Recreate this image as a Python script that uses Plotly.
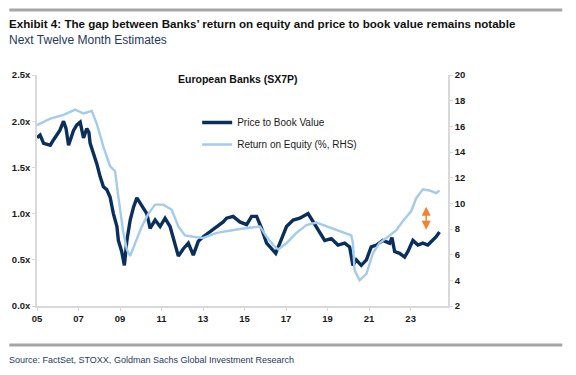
import plotly.graph_objects as go

# ---- data ----
pb_year = [2005.00, 2005.15, 2005.32, 2005.64, 2005.80, 2005.96, 2006.10, 2006.28, 2006.40, 2006.52,
           2006.64, 2006.76, 2006.92, 2007.08, 2007.24, 2007.40, 2007.50, 2007.56, 2007.72, 2007.88,
           2008.04, 2008.20, 2008.36, 2008.52, 2008.68, 2008.85, 2008.92, 2009.08, 2009.21, 2009.33,
           2009.49, 2009.65, 2009.81, 2010.05, 2010.29, 2010.45, 2010.69, 2010.93, 2011.17, 2011.41,
           2011.65, 2011.81, 2012.05, 2012.29, 2012.53, 2012.77, 2013.01, 2013.33, 2013.65, 2013.97,
           2014.13, 2014.45, 2014.77, 2015.10, 2015.34, 2015.58, 2015.82, 2016.06, 2016.30, 2016.50,
           2016.70, 2017.02, 2017.34, 2017.66, 2018.06, 2018.30, 2018.54, 2018.86, 2019.18, 2019.50,
           2019.82, 2020.06, 2020.22, 2020.38, 2020.62, 2020.87, 2021.10, 2021.35, 2021.66, 2021.99,
           2022.10, 2022.23, 2022.47, 2022.71, 2022.87, 2023.11, 2023.35, 2023.59, 2023.83, 2024.07,
           2024.23, 2024.39]
pb_val = [1.82, 1.85, 1.76, 1.74, 1.80, 1.85, 1.90, 2.00, 1.92, 1.74,
          1.82, 1.90, 1.96, 1.99, 1.82, 1.92, 1.88, 1.76, 1.65, 1.54,
          1.40, 1.29, 1.26, 1.18, 1.00, 0.86, 0.71, 0.59, 0.44, 0.71,
          0.93, 1.07, 1.17, 1.09, 1.00, 0.84, 0.93, 0.86, 0.95, 0.86,
          0.68, 0.54, 0.62, 0.68, 0.55, 0.70, 0.75, 0.80, 0.86, 0.91,
          0.95, 0.97, 0.91, 0.88, 0.97, 0.97, 0.84, 0.68, 0.62, 0.57,
          0.68, 0.86, 0.93, 0.95, 1.00, 0.91, 0.82, 0.71, 0.73, 0.66,
          0.68, 0.64, 0.44, 0.50, 0.44, 0.50, 0.64, 0.66, 0.71, 0.68,
          0.74, 0.59, 0.57, 0.53, 0.59, 0.71, 0.66, 0.68, 0.66, 0.71,
          0.75, 0.80]

roe_year = [2005.00, 2005.64, 2006.28, 2006.84, 2007.24, 2007.64, 2007.88, 2008.20, 2008.52, 2008.76,
            2008.92, 2009.16, 2009.33, 2009.49, 2009.73, 2010.05, 2010.37, 2010.69, 2011.09, 2011.49,
            2011.81, 2012.13, 2012.53, 2013.01, 2013.65, 2014.29, 2014.77, 2015.25, 2015.74, 2016.06,
            2016.38, 2016.62, 2017.02, 2017.50, 2017.98, 2018.46, 2018.94, 2019.58, 2020.14, 2020.22,
            2020.30, 2020.54, 2020.87, 2021.18, 2021.50, 2021.99, 2022.31, 2022.62, 2023.03, 2023.27,
            2023.59, 2023.91, 2024.23, 2024.39]
roe_val = [16.1, 16.6, 16.9, 17.3, 17.0, 17.2, 16.2, 14.4, 12.9, 12.5,
           10.5, 7.7, 6.4, 5.9, 6.9, 8.2, 9.2, 9.9, 9.9, 9.5,
           8.2, 7.5, 7.4, 7.3, 7.7, 7.9, 8.0, 8.1, 8.2, 7.4,
           6.75, 6.4, 6.9, 7.7, 8.3, 8.5, 8.2, 7.8, 7.5, 6.9,
           4.8, 4.0, 4.5, 6.1, 6.9, 7.5, 7.9, 8.6, 9.4, 10.4,
           11.1, 11.0, 10.8, 11.0]

x_tickvals = [2005, 2007, 2009, 2011, 2013, 2015, 2017, 2019, 2021, 2023]
x_ticktext = ["05", "07", "09", "11", "13", "15", "17", "19", "21", "23"]
pb_tickvals = [0.0, 0.5, 1.0, 1.5, 2.0, 2.5]
pb_ticktext = ["0.0x", "0.5x", "1.0x", "1.5x", "2.0x", "2.5x"]
roe_tickvals = [2, 4, 6, 8, 10, 12, 14, 16, 18, 20]

gap_year = 2023.75
gap_roe_top = 9.85
gap_roe_bottom = 7.95

NAVY = "#0B2F5C"
LIGHT = "#A3CBEC"
ORANGE = "#F5812A"
AXIS = "#D9D9D9"
SEP = "#A6A6A6"
ARIAL = "Liberation Sans, Arial, sans-serif"

fig = go.Figure()
fig.add_trace(go.Scatter(x=pb_year, y=pb_val, mode="lines", name="Price to Book Value",
                         legendgroup="pb", line=dict(color=NAVY, width=3.4), yaxis="y"))
fig.add_trace(go.Scatter(x=roe_year, y=roe_val, mode="lines", name="Return on Equity (%, RHS)",
                         legendgroup="roe", line=dict(color=LIGHT, width=2.4), yaxis="y2"))

# The page body has an 8px offset; work in window pixel coordinates and convert.
OFF = 8
W, H = 576, 375
# plot area in window coordinates
WL, WR, WT, WB = 36.7, 448, 75, 306
L, R, T, B = WL - OFF, WR - OFF, WT - OFF, WB - OFF

def px(xw):
    return round((xw - OFF - L) / (R - L), 4)

def py(yw):
    return round((B - (yw - OFF)) / (B - T), 4)

fig.update_layout(
    width=W, height=H,
    margin=dict(l=L, r=W - R, t=T, b=H - B, autoexpand=False),
    paper_bgcolor="white", plot_bgcolor="white",
    showlegend=True,
    legend=dict(x=px(197), y=py(108), xanchor="left", yanchor="top",
                font=dict(family=ARIAL, size=10, color="#1a1a1a"),
                bgcolor="rgba(0,0,0,0)", itemwidth=30, tracegroupgap=3),
    xaxis=dict(range=[2005.0, 2024.8], tickvals=x_tickvals, ticktext=x_ticktext,
               showgrid=False, zeroline=False, showline=True, linecolor=AXIS, linewidth=1.5,
               ticks="outside", ticklen=3, tickcolor=AXIS,
               tickfont=dict(family=ARIAL, size=9.5, color="#1a1a1a", weight="bold")),
    yaxis=dict(range=[0, 2.5], tickvals=pb_tickvals, ticktext=pb_ticktext,
               showgrid=False, zeroline=False, showline=True, linecolor=AXIS, linewidth=1.5,
               ticks="outside", ticklen=3, tickcolor=AXIS,
               tickfont=dict(family=ARIAL, size=9.5, color="#1a1a1a", weight="bold")),
    yaxis2=dict(range=[2, 20], tickvals=roe_tickvals, overlaying="y", side="right",
                showgrid=False, zeroline=False, showline=True, linecolor=AXIS, linewidth=1.5,
                ticks="outside", ticklen=3, tickcolor=AXIS,
                tickfont=dict(family=ARIAL, size=9.5, color="#1a1a1a", weight="bold")),
)

# separator rules, positioned in pixels relative to the plot-area corners
# top rule: window y=10  -> 65 px above the plot top (anchor paper y=1)
# bottom rule: window y=345 -> 39 px below the plot bottom (anchor paper y=0)
sep_rules = [(1, WT - 10), (0, WB - 345)]
for anchor, dy in sep_rules:
    fig.add_shape(type="line", xref="paper", yref="paper", layer="above",
                  xsizemode="pixel", ysizemode="pixel", xanchor=0, yanchor=anchor,
                  x0=9 - WL, x1=562 - WL, y0=dy, y1=dy,
                  line=dict(color=SEP, width=3))

# gap arrow
fig.add_annotation(x=gap_year, y=gap_roe_bottom, ax=gap_year, ay=gap_roe_top,
                   xref="x", yref="y2", axref="x", ayref="y2",
                   showarrow=True, arrowhead=2, startarrowhead=2, arrowside="end+start",
                   arrowsize=1.2, arrowwidth=1.5, arrowcolor=ORANGE, text="")

# chart inner title
fig.add_annotation(x=px(238), y=py(79), xref="paper", yref="paper", xanchor="center", yanchor="middle",
                   text="<b>European Banks (SX7P)</b>", showarrow=False,
                   font=dict(family=ARIAL, size=10.5, color="#111111"))

# headline, subtitle, source
fig.add_annotation(x=px(7), y=py(23), xref="paper", yref="paper", xanchor="left", yanchor="middle",
                   text="<b>Exhibit 4: The gap between Banks’ return on equity and price to book value remains notable</b>",
                   showarrow=False, font=dict(family=ARIAL, size=11.6, color="#111111"))
fig.add_annotation(x=px(7), y=py(40), xref="paper", yref="paper", xanchor="left", yanchor="middle",
                   text="Next Twelve Month Estimates", showarrow=False,
                   font=dict(family=ARIAL, size=12, color="#23395D"))
fig.add_annotation(x=px(7), y=py(360), xref="paper", yref="paper", xanchor="left", yanchor="middle",
                   text="Source: FactSet, STOXX, Goldman Sachs Global Investment Research",
                   showarrow=False, font=dict(family=ARIAL, size=9, color="#23395D"))

fig.write_html("out.html")
